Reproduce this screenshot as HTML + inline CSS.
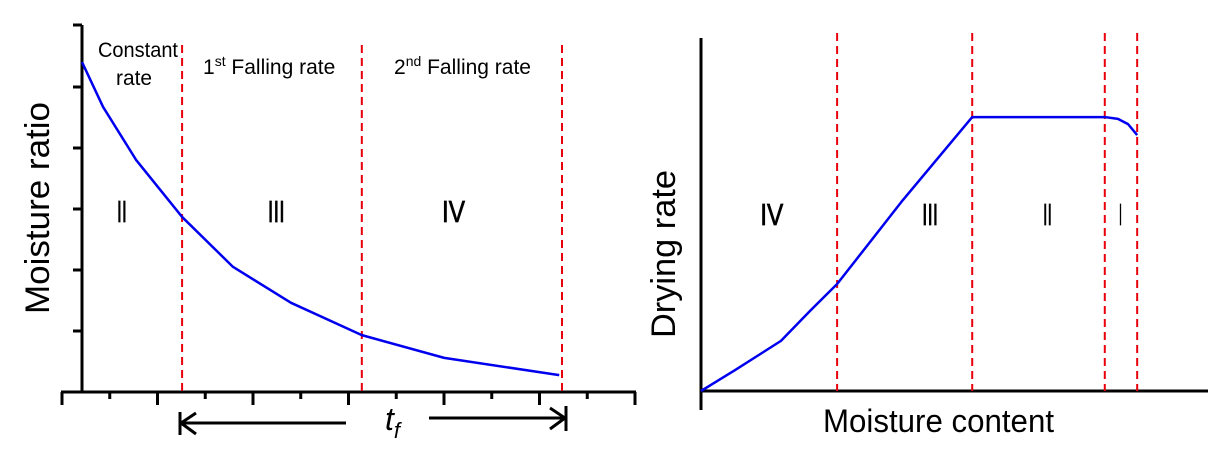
<!DOCTYPE html>
<html><head><meta charset="utf-8"><style>
html,body{margin:0;padding:0;background:#fff;}
svg{display:block;font-family:"Liberation Sans",Arial,sans-serif;}
</style></head><body>
<svg id="chart" width="1215" height="459" viewBox="0 0 1215 459">
  <g id="left"></g>
  <g id="right"></g>
</svg>
<script>
// Left panel data (time vs moisture ratio, normalised 0..1 on each axis)
const leftTime = [0, 0.038, 0.098, 0.181, 0.273, 0.378, 0.506, 0.655, 0.863];
const leftMR   = [0.899, 0.777, 0.632, 0.477, 0.341, 0.243, 0.155, 0.093, 0.046];
const leftBoundaries = [0.181, 0.506, 0.868];
const leftRegionLabels = ["II", "III", "IV"];
const leftRegionPos = [0.063, 0.336, 0.651];
const leftRegionWidths = [10, 17, 23];
// Right panel data (moisture content vs drying rate, normalised)
const rightMC   = [0, 0.067, 0.158, 0.217, 0.269, 0.399, 0.536, 0.798, 0.824, 0.844, 0.862];
const rightRate = [0, 0.059, 0.142, 0.229, 0.303, 0.541, 0.776, 0.776, 0.771, 0.756, 0.725];
const rightBoundaries = [0.269, 0.536, 0.798, 0.862];
const rightRegionLabels = ["IV", "III", "II", "I"];
const rightRegionPos = [0.117, 0.437, 0.676, 0.826];
const rightRegionWidths = [23, 16, 9, 3];

const NS = "http://www.w3.org/2000/svg";
function mk(parent, tag, attrs){const e=document.createElementNS(NS,tag);for(const k in attrs)e.setAttribute(k,attrs[k]);parent.appendChild(e);return e;}

// ---- Left panel ----
const L = document.getElementById('left');
const lx = v => 82 + v*(635-82);
const ly = v => 392 - v*(392-25);
let e;
e=mk(L,'line',{x1:82,y1:25,x2:82,y2:393,stroke:'#000','stroke-width':3});
 
e=mk(L,'line',{x1:61,y1:392,x2:636,y2:392,stroke:'#000','stroke-width':3});
 
[25,87,148,209,270,331].forEach(y=>{
  e=mk(L,'line',{x1:73,y1:y,x2:82,y2:y,stroke:'#000','stroke-width':3});
   
});
for(let i=0;i<13;i++){
  const x=62+i*47.75;
  e=mk(L,'line',{x1:x,y1:392,x2:x,y2:i%2===0?405:399,stroke:'#000','stroke-width':3});
   
}
leftBoundaries.forEach(b=>{
  e=mk(L,'line',{x1:lx(b),y1:45,x2:lx(b),y2:392,stroke:'#e8000b','stroke-width':2,'stroke-dasharray':'8,5'});
   
});
e=mk(L,'polyline',{points:leftTime.map((t,i)=>lx(t)+','+ly(leftMR[i])).join(' '),fill:'none',stroke:'#0000ee','stroke-width':2.5,'stroke-linejoin':'round'});
 
leftRegionLabels.forEach((t,i)=>{
  e=mk(L,'text',{x:lx(leftRegionPos[i]),y:222,'font-size':31,stroke:'#000','stroke-width':0.8,textLength:leftRegionWidths[i],lengthAdjust:'spacingAndGlyphs'}); e.textContent=t;
   
});
e=mk(L,'text',{x:98,y:57,'font-size':21,textLength:80,lengthAdjust:'spacingAndGlyphs'});e.textContent='Constant';
 
e=mk(L,'text',{x:116,y:85,'font-size':21,textLength:36,lengthAdjust:'spacingAndGlyphs'});e.textContent='rate';
 
e=mk(L,'text',{x:203,y:74,'font-size':21});
e.innerHTML='1<tspan dy="-8" font-size="14">st</tspan><tspan dy="8"> Falling rate</tspan>';
 
e=mk(L,'text',{x:394,y:74,'font-size':21});
e.innerHTML='2<tspan dy="-8" font-size="14">nd</tspan><tspan dy="8"> Falling rate</tspan>';
 
e=mk(L,'text',{x:0,y:0,'font-size':34,'text-anchor':'middle',transform:'translate(49,208) rotate(-90)',textLength:212,lengthAdjust:'spacingAndGlyphs'});
e.textContent='Moisture ratio';
 
// t_f arrows
e=mk(L,'path',{d:'M346,423 L181,423 M196,413 L181,423 L196,434 M180,412 L180,435',stroke:'#000','stroke-width':3,fill:'none'});
 
e=mk(L,'path',{d:'M429,418 L565,418 M550,408 L565,418 L550,429 M566,406 L566,431',stroke:'#000','stroke-width':3,fill:'none'});
 
e=mk(L,'text',{x:385,y:430,'font-size':32,'font-style':'italic'});
e.innerHTML='t<tspan dy="8" font-size="22">f</tspan>';
 

// ---- Right panel ----
const R = document.getElementById('right');
const rx = v => 701 + v*(1207-701);
const ry = v => 391 - v*(391-38);
e=mk(R,'line',{x1:701,y1:38,x2:701,y2:410,stroke:'#000','stroke-width':3});
 
e=mk(R,'line',{x1:700,y1:391,x2:1208,y2:391,stroke:'#000','stroke-width':3});
 
rightBoundaries.forEach(b=>{
  e=mk(R,'line',{x1:rx(b),y1:33,x2:rx(b),y2:391,stroke:'#e8000b','stroke-width':2,'stroke-dasharray':'8,5'});
   
});
e=mk(R,'polyline',{points:rightMC.map((m,i)=>rx(m)+','+ry(rightRate[i])).join(' '),fill:'none',stroke:'#0000ee','stroke-width':2.5,'stroke-linejoin':'round'});
 
rightRegionLabels.forEach((t,i)=>{
  e=mk(R,'text',{x:rx(rightRegionPos[i]),y:225,'font-size':31,stroke:'#000','stroke-width':0.8,textLength:rightRegionWidths[i],lengthAdjust:'spacingAndGlyphs'}); e.textContent=t;
   
});
e=mk(R,'text',{x:823,y:432,'font-size':32,textLength:231,lengthAdjust:'spacingAndGlyphs'});e.textContent='Moisture content';
 
e=mk(R,'text',{x:0,y:0,'font-size':34,'text-anchor':'middle',transform:'translate(675,254) rotate(-90)',textLength:168,lengthAdjust:'spacingAndGlyphs'});
e.textContent='Drying rate';
 
</script>
</body></html>
